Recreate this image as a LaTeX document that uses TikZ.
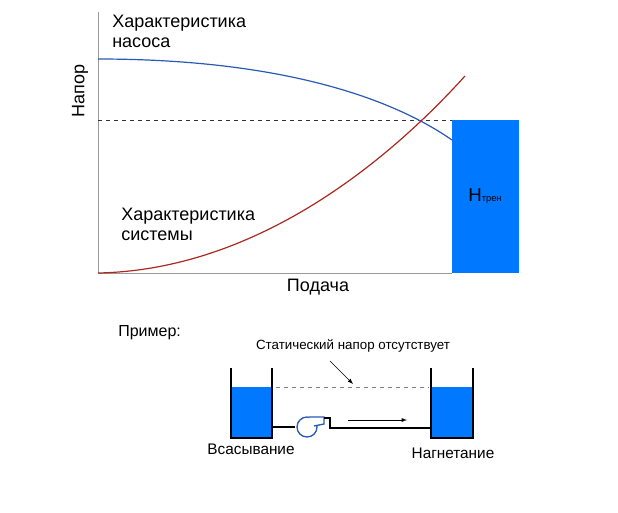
\documentclass[tikz,border=0pt]{standalone}
\usepackage{fontspec}
\setmainfont{Liberation Sans}
\begin{document}
\begin{tikzpicture}[x=0.75pt,y=-0.75pt,
  lbl/.style={inner sep=0pt,anchor=west,font=\fontsize{13.5}{15}\selectfont},
  sm/.style={inner sep=0pt,font=\fontsize{10}{12}\selectfont},
  water/.style={fill=blue!50!cyan!100!black, draw=none},
  tank/.style={line width=1.3pt}]
\useasboundingbox (0,0) rectangle (618,512);
\definecolor{wb}{RGB}{0,120,255}
\definecolor{pc}{RGB}{40,90,180}
\definecolor{sc}{RGB}{170,40,30}
% chart
\fill[wb] (452,120) rectangle (519,273);
\node[sm] (htr) at (485,196) {\fontsize{14}{16}\selectfont H\fontsize{7}{8}\selectfont трен};
\draw[gray!80] (98,12) -- (98,273) -- (452,273);
\draw[dashed,gray!40!black] (98,120) -- (452,120);
\draw[pc,line width=0.9pt] (98,59) .. controls (260,59) and (380,90) .. (452,140);
\draw[sc,line width=0.9pt] (98,273) .. controls (250,270) and (380,170) .. (465,76);
\node[lbl,anchor=north west,align=left] (t1) at (112,15) {Характеристика\\насоса};
\node[lbl,anchor=north west,align=left] (t2) at (121,208) {Характеристика\\системы};
\node[lbl,rotate=90] (ya) at (80,118) {Напор};
\node[lbl,anchor=center] (xa) at (318,287) {Подача};
\node[lbl,font=\fontsize{12}{14}\selectfont] (ex) at (118,333) {Пример:};
% example
\node[sm] (st) at (353,346) {Статический напор отсутствует};
\fill[wb] (231,387) rectangle (272,438);
\fill[wb] (431,387) rectangle (473,438);
\draw[tank] (231,368) -- (231,438) -- (272,438) -- (272,368);
\draw[tank] (431,368) -- (431,438) -- (473,438) -- (473,368);
\draw[dashed,gray] (276,387) -- (429,387);
\coordinate (a1) at (330,361);
\coordinate (a2) at (353,384);
\draw[-latex] (a1) -- (a2);
\draw[line width=1pt] (272,427) -- (295,427);
\draw[pc,line width=1pt,fill=white] (307,427) circle (10);
\draw[pc,line width=1pt,fill=white] (309,417) -- (324,417) -- (324,424) -- (314,426);
\draw[line width=1pt] (324,418) -- (330,418) -- (330,428) -- (431,428);
\coordinate (f1) at (348,420);
\coordinate (f2) at (407,420);
\draw[-latex] (f1) -- (f2);
\node[sm,font=\fontsize{11.5}{13}\selectfont] (vs) at (251,449) {Всасывание};
\node[sm,font=\fontsize{11.5}{13}\selectfont] (ng) at (453,453) {Нагнетание};
\end{tikzpicture}
\end{document}
